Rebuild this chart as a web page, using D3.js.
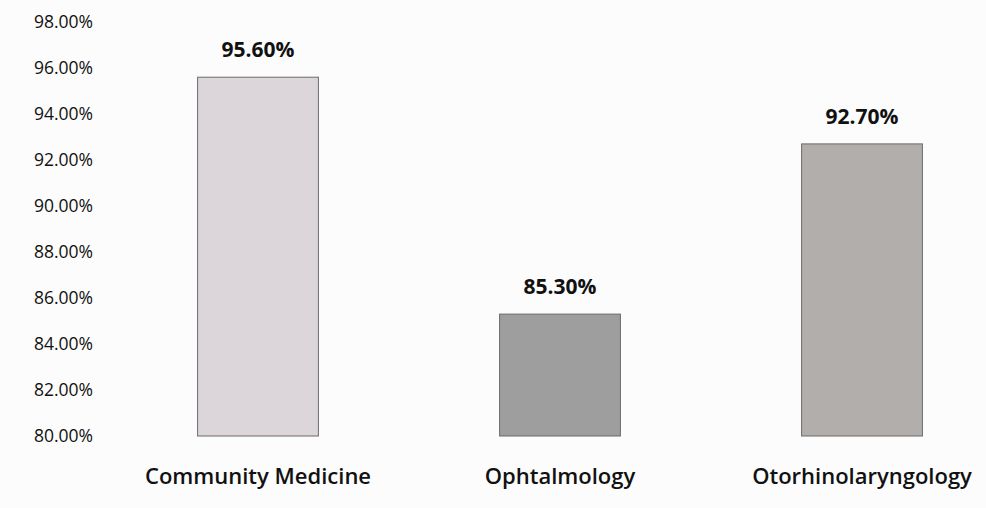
<!DOCTYPE html>
<html>
<head>
<meta charset="utf-8">
<script src="https://cdn.jsdelivr.net/npm/d3@7"></script>
<style>
  body { margin: 0; background: #fcfcfc; }
  svg { display: block; font-family: "Open Sans", "Noto Sans", sans-serif; }
</style>
</head>
<body>
<svg id="chart" width="986" height="508"></svg>
<script>
var categories = ["Community Medicine", "Ophtalmology", "Otorhinolaryngology"];
var values = [95.6, 85.3, 92.7];
var valueLabels = ["95.60%", "85.30%", "92.70%"];
var barColors = ["#dcd6da", "#9d9e9d", "#b2aeac"];
var yTicks = [80, 82, 84, 86, 88, 90, 92, 94, 96, 98];

var svg = d3.select("#chart");

var x = d3.scaleBand()
    .domain(categories)
    .range([107, 1013])
    .paddingInner(0.6)
    .paddingOuter(0.3);

var y = d3.scaleLinear()
    .domain([80, 98])
    .range([436, 22]);

// y axis: labels only
var yAxis = svg.append("g")
    .attr("transform", "translate(93,0)")
    .call(d3.axisLeft(y).tickValues(yTicks).tickSize(0).tickPadding(0)
        .tickFormat(function(d) { return d.toFixed(2) + "%"; }));
yAxis.select(".domain").remove();
yAxis.selectAll("text")
    .attr("fill", "#111")
    .style("font-size", "17.5px")
    .style("font-family", "'Open Sans', sans-serif");

// bars
svg.selectAll(".bar")
    .data(values)
    .enter().append("rect")
    .attr("class", "bar")
    .attr("x", function(d, i) { return x(categories[i]); })
    .attr("y", function(d) { return y(d); })
    .attr("width", x.bandwidth())
    .attr("height", function(d) { return y(80) - y(d); })
    .attr("fill", function(d, i) { return barColors[i]; })
    .attr("stroke", "#6a6a6a")
    .attr("stroke-width", 1);

// value labels
svg.selectAll(".val")
    .data(values)
    .enter().append("text")
    .attr("class", "val")
    .attr("x", function(d, i) { return x(categories[i]) + x.bandwidth() / 2; })
    .attr("y", function(d) { return y(d) - 20; })
    .attr("text-anchor", "middle")
    .attr("fill", "#111")
    .style("font-size", "21px")
    .style("font-weight", "bold")
    .text(function(d, i) { return valueLabels[i]; });

// category labels
var xAxis = svg.append("g")
    .attr("transform", "translate(0,468)")
    .call(d3.axisBottom(x).tickSize(0).tickPadding(0));
xAxis.select(".domain").remove();
xAxis.selectAll("text")
    .attr("fill", "#111")
    .style("font-size", "22px")
    .style("font-weight", "600")
    .style("font-family", "'Open Sans', sans-serif");
</script>
</body>
</html>
